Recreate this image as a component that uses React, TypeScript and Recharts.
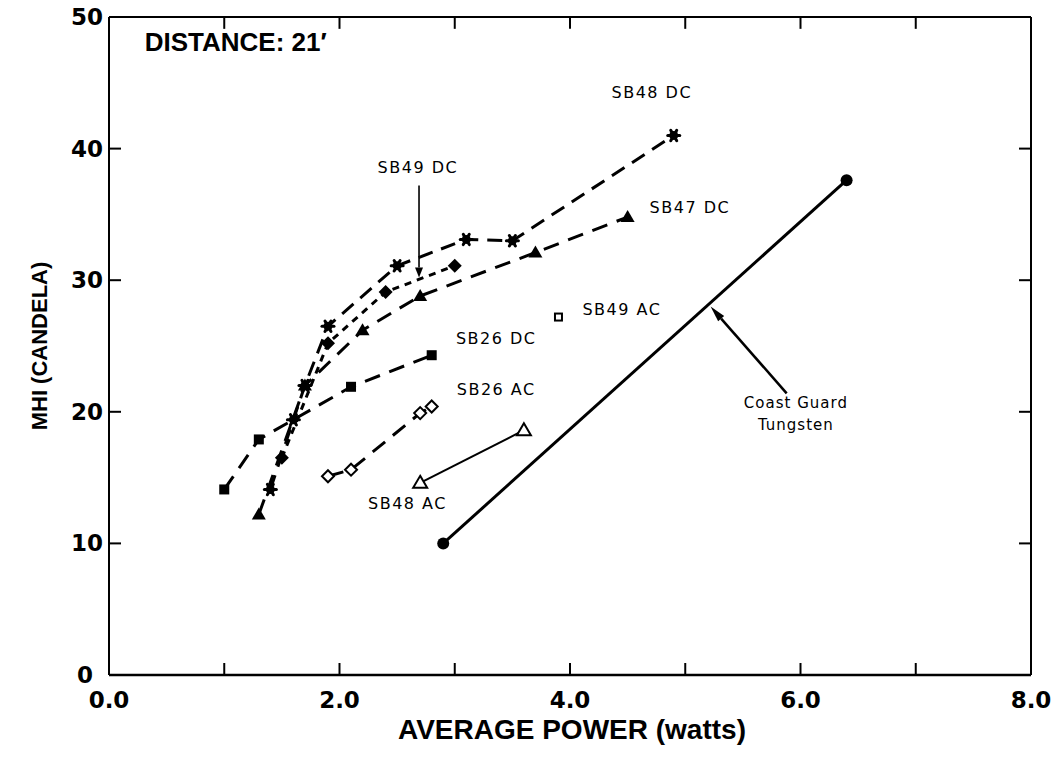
import React from 'react';
import { ScatterChart, Scatter, XAxis, YAxis, ReferenceDot, ReferenceLine } from 'recharts';

// axis ticks
const powerTicks = [0, 1, 2, 3, 4, 5, 6, 7, 8];
const mhiTicks = [0, 10, 20, 30, 40, 50];

// SB48 DC
const sb48DcPower = [1.4, 1.6, 1.7, 1.9, 2.5, 3.1, 3.5, 4.9];
const sb48DcMhi = [14.1, 19.4, 22.0, 26.5, 31.1, 33.1, 33.0, 41.0];

// SB49 DC
const sb49DcPower = [1.5, 1.9, 2.4, 3.0];
const sb49DcMhi = [16.5, 25.2, 29.1, 31.1];

// SB47 DC
const sb47DcPower = [1.3, 1.7, 2.2, 2.7, 3.7, 4.5];
const sb47DcMhi = [12.2, 22.0, 26.2, 28.8, 32.1, 34.8];

// SB26 DC
const sb26DcPower = [1.0, 1.3, 2.1, 2.8];
const sb26DcMhi = [14.1, 17.9, 21.9, 24.3];

// SB26 AC
const sb26AcPower = [1.9, 2.1, 2.7, 2.8];
const sb26AcMhi = [15.1, 15.6, 19.9, 20.4];

// SB48 AC
const sb48AcPower = [2.7, 3.6];
const sb48AcMhi = [14.6, 18.6];

// SB49 AC
const sb49AcPower = [3.9];
const sb49AcMhi = [27.2];

// Coast Guard tungsten lamp
const tungstenPower = [2.9, 6.4];
const tungstenMhi = [10.0, 37.6];

const zip = (xs: number[], ys: number[]) => xs.map((x, i) => ({ power: x, mhi: ys[i] }));

// layout
const W = 1055;
const H = 762;
const MARGIN = { top: 5, right: 23, bottom: 0, left: 0 };
const TOP_AXIS_H = 12;
const BOTTOM_AXIS_H = 87;
const TICK_LEN = 12;

const ink = '#000';
const tickFont: React.CSSProperties = { fontFamily: '"DejaVu Sans", sans-serif', fontWeight: 700, fontSize: 23, fill: ink };
const noteFont: React.CSSProperties = { fontFamily: '"DejaVu Sans", sans-serif', fontSize: 16, letterSpacing: 1.5, fill: ink };

// ---- marker shapes ----
const StarMark = ({ cx, cy }: any) => (
  <g stroke={ink} strokeWidth={3} strokeLinecap="round">
    <line x1={cx - 6} y1={cy} x2={cx + 6} y2={cy} />
    <line x1={cx - 3} y1={cy - 5.2} x2={cx + 3} y2={cy + 5.2} />
    <line x1={cx + 3} y1={cy - 5.2} x2={cx - 3} y2={cy + 5.2} />
    <circle cx={cx} cy={cy} r={4.5} fill={ink} stroke="none" />
  </g>
);
const DiamondMark = ({ cx, cy }: any) => (
  <polygon points={`${cx},${cy - 7} ${cx + 7},${cy} ${cx},${cy + 7} ${cx - 7},${cy}`} fill={ink} />
);
const TriangleMark = ({ cx, cy }: any) => (
  <polygon points={`${cx},${cy - 7} ${cx + 7},${cy + 5} ${cx - 7},${cy + 5}`} fill={ink} />
);
const SquareMark = ({ cx, cy }: any) => <rect x={cx - 5} y={cy - 5} width={10} height={10} fill={ink} />;
const OpenDiamondMark = ({ cx, cy }: any) => (
  <polygon points={`${cx},${cy - 6} ${cx + 6},${cy} ${cx},${cy + 6} ${cx - 6},${cy}`} fill="#fff" stroke={ink} strokeWidth={2} />
);
const OpenTriangleMark = ({ cx, cy }: any) => (
  <polygon points={`${cx},${cy - 7} ${cx + 7},${cy + 5} ${cx - 7},${cy + 5}`} fill="#fff" stroke={ink} strokeWidth={2} />
);
const OpenSquareMark = ({ cx, cy }: any) => (
  <rect x={cx - 3.5} y={cy - 3.5} width={7} height={7} fill="#fff" stroke={ink} strokeWidth={2} />
);
const DotMark = ({ cx, cy }: any) => <circle cx={cx} cy={cy} r={6} fill={ink} />;

// ---- axis ticks, drawn pointing into the frame ----
const BottomTick = ({ x, y, payload }: any) => {
  const v = payload.value as number;
  return (
    <g>
      {v > 0 && v < 8 && <line x1={x} y1={y} x2={x} y2={y - TICK_LEN} stroke={ink} strokeWidth={2} />}
      {v % 2 === 0 && (
        <text x={x} y={y + 33} textAnchor="middle" style={tickFont}>
          {v.toFixed(1)}
        </text>
      )}
    </g>
  );
};
const LeftTick = ({ x, y, payload }: any) => {
  const v = payload.value as number;
  return (
    <g>
      {v > 0 && v < 50 && <line x1={x} y1={y} x2={x + TICK_LEN} y2={y} stroke={ink} strokeWidth={2} />}
      <text x={v === 0 ? x - 16 : x - 6} y={y + 8} textAnchor="end" style={tickFont}>
        {v}
      </text>
    </g>
  );
};
const RightTick = ({ x, y, payload }: any) =>
  payload.value > 0 && payload.value < 50 ? <line x1={x} y1={y} x2={x - TICK_LEN} y2={y} stroke={ink} strokeWidth={2} /> : <g />;

const XTitle = ({ viewBox }: any) => (
  <text
    x={viewBox.x + viewBox.width / 2 + 2}
    y={viewBox.y + 64}
    textAnchor="middle"
    style={{ fontFamily: '"Liberation Sans", Arial, sans-serif', fontWeight: 700, fontSize: 28, fill: ink }}
  >
    AVERAGE POWER (watts)
  </text>
);
const YTitle = ({ viewBox }: any) => {
  const cx = viewBox.x + 39;
  const cy = viewBox.y + viewBox.height / 2;
  return (
    <text
      x={cx}
      y={cy}
      transform={`rotate(-90 ${cx} ${cy})`}
      textAnchor="middle"
      dominantBaseline="central"
      style={{ fontFamily: '"Liberation Sans", Arial, sans-serif', fontWeight: 700, fontSize: 22, fill: ink }}
    >
      MHI (CANDELA)
    </text>
  );
};

// ---- annotations ----
const textAt = (lines: string[], style: React.CSSProperties, anchor: 'start' | 'middle' = 'middle') => ({ cx, cy }: any) => (
  <text x={cx} y={cy} textAnchor={anchor} dominantBaseline="central" style={style}>
    {lines.map((l, i) => (
      <tspan key={i} x={cx} dy={i === 0 ? 0 : 22}>
        {l}
      </tspan>
    ))}
  </text>
);

const arrow = (width: number, headLen: number, headHalf: number) => (props: any) => {
  const { x1, y1, x2, y2 } = props;
  const a = Math.atan2(y2 - y1, x2 - x1);
  const bx = x2 - headLen * Math.cos(a);
  const by = y2 - headLen * Math.sin(a);
  const px = -Math.sin(a) * headHalf;
  const py = Math.cos(a) * headHalf;
  return (
    <g>
      <line x1={x1} y1={y1} x2={bx} y2={by} stroke={ink} strokeWidth={width} />
      <polygon points={`${x2},${y2} ${bx + px},${by + py} ${bx - px},${by - py}`} fill={ink} />
    </g>
  );
};

const notes = [
  { x: 4.71, y: 44.3, text: ['SB48 DC'] },
  { x: 2.68, y: 38.6, text: ['SB49 DC'] },
  { x: 5.04, y: 35.6, text: ['SB47 DC'] },
  { x: 4.45, y: 27.8, text: ['SB49 AC'] },
  { x: 3.36, y: 25.6, text: ['SB26 DC'] },
  { x: 3.36, y: 21.7, text: ['SB26 AC'] },
  { x: 2.59, y: 13.1, text: ['SB48 AC'] },
];

export default function App() {
  return (
    <div style={{ position: 'absolute', left: 0, top: 0, width: W, height: H }}>
      <ScatterChart width={W} height={H} margin={MARGIN}>
        <XAxis
          xAxisId="top"
          orientation="top"
          type="number"
          domain={[0, 8]}
          height={TOP_AXIS_H}
          tick={false}
          tickLine={false}
          axisLine={{ stroke: ink, strokeWidth: 2 }}
          allowDataOverflow
        />
        <YAxis
          yAxisId="right"
          orientation="right"
          type="number"
          domain={[0, 50]}
          ticks={mhiTicks}
          interval={0}
          width={1}
          tickSize={0}
          tickMargin={0}
          tickLine={false}
          tick={<RightTick />}
          axisLine={{ stroke: ink, strokeWidth: 2 }}
          allowDataOverflow
        />
        <XAxis
          type="number"
          dataKey="power"
          domain={[0, 8]}
          ticks={powerTicks}
          interval={0}
          height={BOTTOM_AXIS_H}
          tickSize={0}
          tickMargin={0}
          tickLine={false}
          tick={<BottomTick />}
          axisLine={{ stroke: ink, strokeWidth: 2.5 }}
          label={{ content: XTitle }}
          allowDataOverflow
        />
        <YAxis
          type="number"
          dataKey="mhi"
          domain={[0, 50]}
          ticks={mhiTicks}
          interval={0}
          width={109}
          tickSize={0}
          tickMargin={0}
          tickLine={false}
          tick={<LeftTick />}
          axisLine={{ stroke: ink, strokeWidth: 2 }}
          label={{ content: YTitle }}
          allowDataOverflow
        />

        {/* tick marks hanging from the top edge of the frame */}
        {powerTicks
          .filter((v) => v > 0 && v < 8)
          .map((v) => (
            <ReferenceLine key={`top-${v}`} segment={[{ x: v, y: 50 }, { x: v, y: 49.1 }]} stroke={ink} strokeWidth={2} />
          ))}

        <Scatter
          name="Coast Guard Tungsten"
          data={zip(tungstenPower, tungstenMhi)}
          line={{ stroke: ink, strokeWidth: 3 }}
          shape={<DotMark />}
          isAnimationActive={false}
        />
        <Scatter
          name="SB26 DC"
          data={zip(sb26DcPower, sb26DcMhi)}
          line={{ stroke: ink, strokeWidth: 3, strokeDasharray: '16 10' }}
          shape={<SquareMark />}
          isAnimationActive={false}
        />
        <Scatter
          name="SB26 AC"
          data={zip(sb26AcPower, sb26AcMhi)}
          line={{ stroke: ink, strokeWidth: 3, strokeDasharray: '16 10' }}
          shape={<OpenDiamondMark />}
          isAnimationActive={false}
        />
        <Scatter
          name="SB48 AC"
          data={zip(sb48AcPower, sb48AcMhi)}
          line={{ stroke: ink, strokeWidth: 2 }}
          shape={<OpenTriangleMark />}
          isAnimationActive={false}
        />
        <Scatter
          name="SB49 AC"
          data={zip(sb49AcPower, sb49AcMhi)}
          shape={<OpenSquareMark />}
          isAnimationActive={false}
        />
        <Scatter
          name="SB47 DC"
          data={zip(sb47DcPower, sb47DcMhi)}
          line={{ stroke: ink, strokeWidth: 3, strokeDasharray: '16 10' }}
          shape={<TriangleMark />}
          isAnimationActive={false}
        />
        <Scatter
          name="SB49 DC"
          data={zip(sb49DcPower, sb49DcMhi)}
          line={{ stroke: ink, strokeWidth: 3, strokeDasharray: '7 6' }}
          shape={<DiamondMark />}
          isAnimationActive={false}
        />
        <Scatter
          name="SB48 DC"
          data={zip(sb48DcPower, sb48DcMhi)}
          line={{ stroke: ink, strokeWidth: 3, strokeDasharray: '15 9' }}
          shape={<StarMark />}
          isAnimationActive={false}
        />

        <ReferenceLine segment={[{ x: 2.69, y: 37.2 }, { x: 2.69, y: 30.2 }]} shape={arrow(1.6, 10, 4)} />
        <ReferenceLine segment={[{ x: 5.88, y: 21.4 }, { x: 5.22, y: 28.0 }]} shape={arrow(2.5, 16, 4)} />

        <ReferenceDot
          x={0.31}
          y={48.1}
          r={0}
          shape={textAt(['DISTANCE: 21′'], { fontFamily: '"Liberation Sans", Arial, sans-serif', fontWeight: 700, fontSize: 26, fill: ink }, 'start')}
        />
        {notes.map((n) => (
          <ReferenceDot key={n.text[0]} x={n.x} y={n.y} r={0} shape={textAt(n.text, noteFont)} />
        ))}
        <ReferenceDot x={5.96} y={20.7} r={0} shape={textAt(['Coast Guard', 'Tungsten'], { ...noteFont, fontSize: 15, letterSpacing: 1 })} />
      </ScatterChart>
    </div>
  );
}
